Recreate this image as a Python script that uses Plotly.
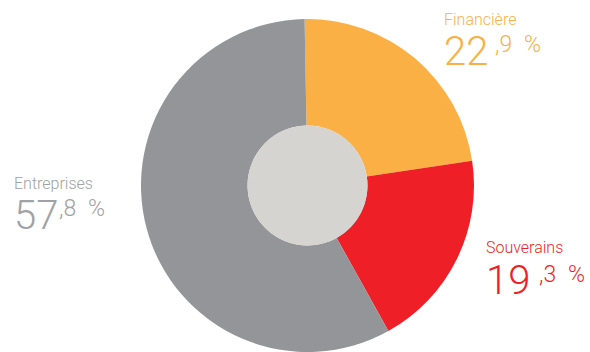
import plotly.graph_objects as go

labels = ["Financière", "Souverains", "Entreprises"]
values = [22.9, 19.3, 57.8]
colors = ["#FBB045", "#EE1F26", "#939598"]
text_colors = ["#FBB045", "#EE1F26", "#A0A2A5"]

W, H = 590, 352

def px(x):
    return x / W

def py(y):
    return 1 - y / H

fig = go.Figure()
fig.add_trace(go.Pie(
    labels=labels, values=values, sort=False, direction="clockwise",
    rotation=-1, hole=0.36, marker=dict(colors=colors, line=dict(width=0)),
    textinfo="none", domain=dict(x=[px(141), px(474)], y=[0, 0.946]),
    showlegend=False,
))

# centre disc
cx, cy, r = 307.5, 185.5, 60
fig.add_shape(type="circle", xref="paper", yref="paper",
              x0=px(cx - r), x1=px(cx + r), y0=py(cy + r), y1=py(cy - r),
              fillcolor="#D5D4D1", line=dict(width=0), layer="above")

# label positions (left x, label centre y, big number centre y, small left x, small centre y)
pos = [
    (442, 19.5, 51.5, 493, 44.5),
    (484, 247.5, 280.5, 537, 274.5),
    (12, 183, 215.5, 57, 208.5),
]
FONT = "Roboto"
for lab, val, col, (lx, ly, by, sx, sy) in zip(labels, values, text_colors, pos):
    ip, dp = f"{val:.1f}".split(".")
    fig.add_annotation(x=px(lx), y=py(ly), xref="paper", yref="paper", text=lab,
                       showarrow=False, xanchor="left", yanchor="middle",
                       font=dict(family=FONT, size=16, color=col, weight=300))
    fig.add_annotation(x=px(lx), y=py(by), xref="paper", yref="paper", text=ip,
                       showarrow=False, xanchor="left", yanchor="middle",
                       font=dict(family=FONT, size=40, color=col, weight=300))
    fig.add_annotation(x=px(sx), y=py(sy), xref="paper", yref="paper",
                       text=f",{dp}\u2002%",
                       showarrow=False, xanchor="left", yanchor="middle",
                       font=dict(family=FONT, size=23, color=col, weight=300))

fig.update_layout(width=W, height=H, margin=dict(l=0, r=0, t=0, b=0),
                  paper_bgcolor="white", plot_bgcolor="white")
fig.write_html("out.html")
